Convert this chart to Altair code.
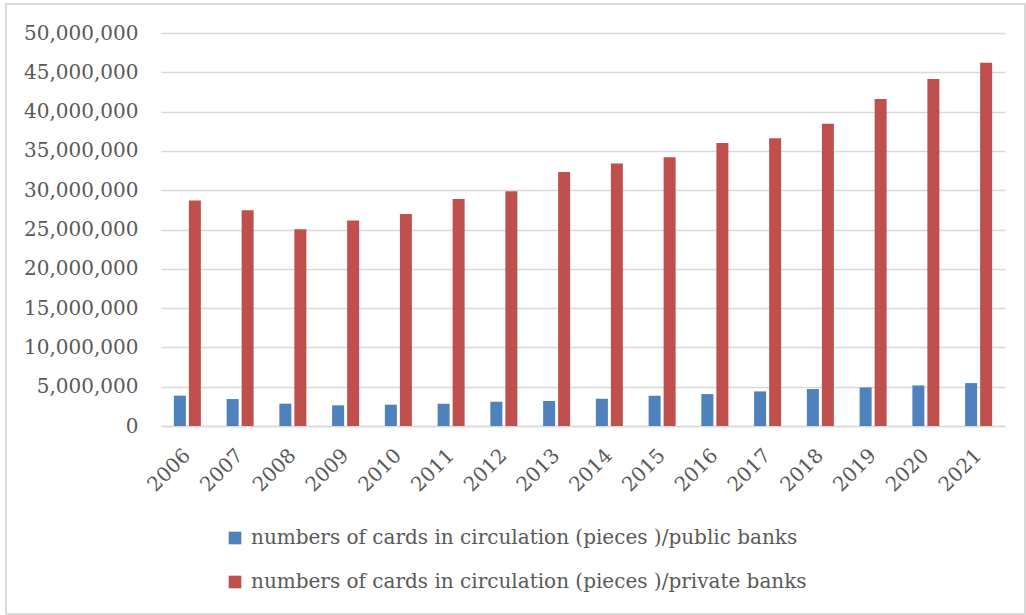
import altair as alt
import pandas as pd

years = [str(y) for y in range(2006, 2022)]
public_banks = [3860000, 3430000, 2840000, 2630000, 2710000, 2840000, 3090000, 3170000,
                3470000, 3850000, 4060000, 4400000, 4700000, 4900000, 5160000, 5460000]
private_banks = [28680000, 27440000, 25030000, 26130000, 26970000, 28880000, 29860000, 32300000,
                 33400000, 34200000, 36000000, 36600000, 38450000, 41600000, 44150000, 46200000]
series_names = ["numbers of cards in circulation (pieces )/public banks",
                "numbers of cards in circulation (pieces )/private banks"]
series_colors = ["#4F81BD", "#C0504D"]
y_ticks = list(range(0, 50000001, 5000000))

rows = []
for i, y in enumerate(years):
    rows.append({"year": y, "series": series_names[0], "value": public_banks[i]})
    rows.append({"year": y, "series": series_names[1], "value": private_banks[i]})
df = pd.DataFrame(rows)

FONT = "DejaVu Serif"
TXT = "#595959"
GRID = "#D9D9D9"

bars = alt.Chart(df).mark_bar().encode(
    x=alt.X("year:N", sort=years,
            scale=alt.Scale(paddingInner=0.488, paddingOuter=0.244),
            axis=alt.Axis(title=None, labelAngle=-45, labelAlign="right", labelBaseline="middle",
                          labelPadding=26, ticks=False, domain=True, domainColor=GRID,
                          domainWidth=1.5, labelFontSize=20, labelColor=TXT, labelFont=FONT,
                          grid=False)),
    xOffset=alt.XOffset("series:N", sort=series_names,
                        scale=alt.Scale(paddingInner=0.2, paddingOuter=0)),
    y=alt.Y("value:Q", scale=alt.Scale(domain=[0, 50000000], nice=False),
            axis=alt.Axis(title=None, values=y_ticks, format=",d", ticks=False, domain=False,
                          labelPadding=23, labelFontSize=20, labelColor=TXT, labelFont=FONT,
                          gridColor=GRID, gridWidth=1.3)),
    color=alt.Color("series:N", sort=series_names,
                    scale=alt.Scale(domain=series_names, range=series_colors),
                    legend=alt.Legend(title=None, orient="none", legendX=64, legendY=495,
                                      direction="vertical", symbolType="square", symbolSize=160,
                                      symbolStrokeWidth=0, labelFontSize=20, labelFont=FONT,
                                      labelColor=TXT, labelOffset=6, rowPadding=24,
                                      padding=0, labelLimit=800)),
)

border = alt.Chart(pd.DataFrame({"a": [0]})).mark_rect(
    fill=None, stroke=GRID, strokeWidth=2
).encode(
    x=alt.value(-155), x2=alt.value(864), y=alt.value(-29), y2=alt.value(581)
)

chart = alt.layer(border, bars).properties(
    width=844, height=393,
    autosize=alt.AutoSizeParams(type="none"),
    padding={"left": 161, "top": 33, "right": 21, "bottom": 189},
    background="white",
).configure_view(stroke=None)

chart.save("out.html", embed_options={"renderer": "svg", "actions": False})
